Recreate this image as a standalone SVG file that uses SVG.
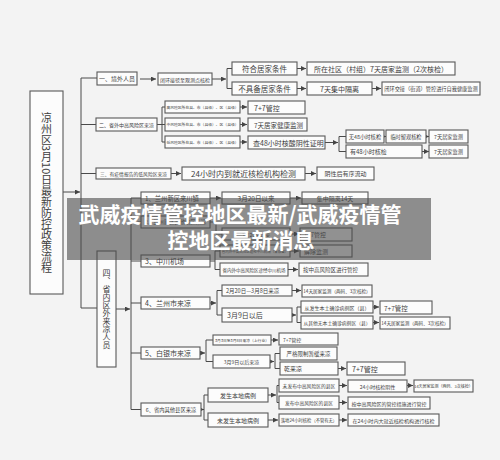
<svg xmlns="http://www.w3.org/2000/svg" width="500" height="460" viewBox="0 0 500 460">
<defs>
<marker id="ah" viewBox="0 0 6 6" refX="6" refY="3" markerWidth="5" markerHeight="5" markerUnits="userSpaceOnUse" orient="auto"><path d="M0,0L6,3L0,6z" fill="#444"/></marker>
<style>
.b{fill:#fcfcfc;stroke:#585858;stroke-width:1.1}
text{font-family:"Noto Sans CJK SC","Noto Sans",sans-serif;fill:#3e3e3e;dominant-baseline:central}
.c{text-anchor:middle}
.l{text-anchor:start}
.ln{fill:none;stroke:#4a4a4a;stroke-width:1}
.ar{fill:none;stroke:#4a4a4a;stroke-width:1;marker-end:url(#ah)}
.v{writing-mode:vertical-rl;text-anchor:start;dominant-baseline:auto}
.tt{fill:#fff;font-weight:700;font-size:21px;text-anchor:middle;dominant-baseline:auto}
</style>
</defs>
<rect width="500" height="460" fill="#f3f3f3"/>

<g id="connectors">
<path class="ar" d="M63,192H80"/>
<path class="ln" d="M81,78V308H97M81,78H97M81,124.5H96M81,173.5H96"/>
<path class="ar" d="M140,79H156"/>
<path class="ar" d="M212,79H226"/>
<path class="ln" d="M232,68.5H227V88.5H232"/>
<path class="ar" d="M297,68.5H306"/><path class="ar" d="M297,88.5H306"/>
<path class="ar" d="M372,88.5H381"/>
<path class="ln" d="M157,124.5H162M165,107H162V142H165M162,124.5H165"/>
<path class="ar" d="M240,107H247"/><path class="ar" d="M240,124.5H247"/><path class="ar" d="M240,142H247"/>
<path class="ar" d="M325,142.5H338"/>
<path class="ln" d="M346,136.5H339V151.5H346"/>
<path class="ar" d="M384,136.5H386"/><path class="ar" d="M426,136.5H429"/><path class="ar" d="M422,151.5H429"/>
<path class="ar" d="M171,173.5H181"/><path class="ar" d="M305,173.5H316"/>
<path class="ar" d="M116,309H130"/>
<path class="ln" d="M131,198V409.5H141M131,198H141M131,222H141M131,261H141M131,303H141M131,353H141"/>
<path class="ar" d="M210,198H221"/><path class="ar" d="M290,198H301"/>
<path class="ln" d="M210,222H216V234H222"/>
<path class="ar" d="M290,234H299"/>
<path class="ln" d="M210,261H215M220,251H215V269.5H220"/>
<path class="ar" d="M290,251H299"/><path class="ar" d="M288,269.5H298"/>
<path class="ar" d="M210,303H216"/>
<path class="ln" d="M222,290.5H217V315H222"/>
<path class="ar" d="M292,290.5H301"/>
<path class="ar" d="M292,315H296"/>
<path class="ln" d="M301,307H297V322.5H301"/>
<path class="ar" d="M373,307H379"/><path class="ar" d="M373,322.5H379"/>
<path class="ar" d="M200,353H205"/>
<path class="ln" d="M213,340H206V361.5H213"/>
<path class="ar" d="M271,340H278"/>
<path class="ar" d="M270,361.5H274"/>
<path class="ln" d="M280,353.5H275V368.5H280"/>
<path class="ar" d="M338,368.5H346"/>
<path class="ar" d="M201,409.5H204"/>
<path class="ln" d="M208,395H204V420H208"/>
<path class="ar" d="M268,395H276"/>
<path class="ln" d="M279,385.5H277V402.5H279"/>
<path class="ar" d="M268,420H278"/>
<path class="ar" d="M339,385.5H347"/><path class="ar" d="M407,385.5H413"/>
<path class="ar" d="M339,402.5H347"/><path class="ar" d="M339,420H347"/>
</g>

<g id="title"><rect class="b" x="30" y="91" width="33" height="203"/><text class="v" x="46.5" y="112" font-size="11">凉州区3月10日最新防控政策流程</text></g>

<g id="n1"><rect class="b" x="97" y="72" width="40" height="13"/><text class="c" x="117" y="78.5" font-size="6">一、境外人员</text></g>
<g id="n1a"><rect class="b" x="158" y="73" width="54" height="12"/><text class="c" x="185" y="79" font-size="5">闭环接驳至观测点核检</text></g>
<g id="n1b"><rect class="b" x="232" y="62" width="65" height="13"/><text class="c" x="264.5" y="68.5" font-size="7.5">符合居家条件</text></g>
<g id="n1c"><rect class="b" x="232" y="82" width="65" height="13"/><text class="c" x="264.5" y="88.5" font-size="7.5">不具备居家条件</text></g>
<g id="n1d"><rect class="b" x="307" y="62" width="148" height="13"/><text class="c" x="381" y="68.5" font-size="7">所在社区（村组）7天居家监测（2次核检）</text></g>
<g id="n1e"><rect class="b" x="307" y="82" width="65" height="13"/><text class="c" x="339.5" y="88.5" font-size="7">7天集中隔离</text></g>
<g id="n1f"><rect class="b" x="382" y="82" width="98" height="13"/><text class="c" x="431" y="88.5" font-size="5.2">闭环交接（街道）管控进行自我健康监测</text></g>

<g id="n2"><rect class="b" x="96" y="118" width="61" height="13"/><text class="c" x="126.5" y="124.5" font-size="5">二、省外中高风险区来凉</text></g>
<g id="n2a"><rect class="b" x="165" y="101" width="75" height="12"/><text class="c" x="202.5" y="107" font-size="3.8">高风险区所在县、市（县级）、区（县级）</text></g>
<g id="n2b"><rect class="b" x="165" y="118" width="75" height="13"/><text class="c" x="202.5" y="124.5" font-size="3.8">中风险区所在县、市（县级）、区（县级）</text></g>
<g id="n2c"><rect class="b" x="165" y="136" width="75" height="12"/><text class="c" x="202.5" y="142" font-size="3.8">低风险区所在县、市（县级）、区（县级）</text></g>
<g id="n2d"><rect class="b" x="248" y="101" width="57" height="13"/><text class="l" x="254" y="107.5" font-size="7">7+7管控</text></g>
<g id="n2e"><rect class="b" x="248" y="118" width="59" height="13"/><text class="l" x="254" y="124.5" font-size="6.5">7天居家健康监测</text></g>
<g id="n2f"><rect class="b" x="248" y="136" width="77" height="13"/><text class="l" x="253" y="142.5" font-size="7">查48小时核酸阴性证明</text></g>
<g id="n2g"><rect class="b" x="346" y="130" width="38" height="13"/><text class="c" x="365" y="136.5" font-size="5.3">无48小时核检</text></g>
<g id="n2h"><rect class="b" x="346" y="145" width="76" height="13"/><text class="l" x="350" y="151.5" font-size="6">有48小时核检</text></g>
<g id="n2i"><rect class="b" x="386" y="130" width="40" height="13"/><text class="c" x="406" y="136.5" font-size="5.2">临时留观核检</text></g>
<g id="n2j"><rect class="b" x="429" y="130" width="39" height="13"/><text class="c" x="448.5" y="136.5" font-size="5.2">7天居家监测</text></g>
<g id="n2k"><rect class="b" x="429" y="145" width="39" height="13"/><text class="c" x="448.5" y="151.5" font-size="5.2">7天居家监测</text></g>

<g id="n3"><rect class="b" x="96" y="168" width="75" height="11"/><text class="c" x="133.5" y="173.5" font-size="4.8">三、有疫情报告的低风险区来凉</text></g>
<g id="n3a"><rect class="b" x="182" y="167" width="123" height="13"/><text class="c" x="243.5" y="173.5" font-size="8">24小时内到就近核检机构检测</text></g>
<g id="n3b"><rect class="b" x="317" y="167" width="57" height="13"/><text class="c" x="345.5" y="173.5" font-size="6">阴性后有序流动</text></g>

<g id="n4"><rect class="b" x="97" y="251" width="19" height="116"/><text class="v" x="106.5" y="269" font-size="8">四、省内区外来凉人员</text></g>

<g id="p1"><rect class="b" x="141" y="192" width="69" height="12"/><text class="l" x="145" y="198" font-size="6.3">1、兰州新区来川镇</text></g>
<g id="p1a"><rect class="b" x="222" y="192" width="68" height="12"/><text class="c" x="256" y="198" font-size="6.5">3月20日以来</text></g>
<g id="p1b"><rect class="b" x="302" y="192" width="66" height="12"/><text class="c" x="335" y="198" font-size="6">集中隔离14天</text></g>
<g id="p2"><rect class="b" x="141" y="216" width="69" height="12"/><text class="l" x="145" y="222" font-size="5.3">2、兰州新区其他地区来凉</text></g>
<g id="p2a"><rect class="b" x="222" y="228" width="68" height="12"/><text class="c" x="256" y="234" font-size="5">3月20日以来</text></g>
<g id="p2b"><rect class="b" x="300" y="228" width="52" height="13"/><text class="l" x="304" y="234.5" font-size="6">7+7管控</text></g>
<g id="p3"><rect class="b" x="141" y="255" width="69" height="12"/><text class="l" x="145" y="261" font-size="7">3、中川机场</text></g>
<g id="p3a"><rect class="b" x="220" y="245" width="70" height="12"/><text class="c" x="255" y="251" font-size="3.5">省内外中高风险区途经中川机场（未停留）</text></g>
<g id="p3b"><rect class="b" x="300" y="245" width="52" height="12"/><text class="l" x="304" y="251" font-size="6">解除监测</text></g>
<g id="p3c"><rect class="b" x="220" y="263" width="68" height="13"/><text class="c" x="254" y="269.5" font-size="4.5">省内外中高风险区途经中川机场</text></g>
<g id="p3d"><rect class="b" x="299" y="263" width="69" height="13"/><text class="l" x="303" y="269.5" font-size="5.5">按中高风险区进行管控</text></g>

<g id="p4"><rect class="b" x="141" y="297" width="69" height="12"/><text class="l" x="145" y="303" font-size="7">4、兰州市来凉</text></g>
<g id="p4a"><rect class="b" x="222" y="285" width="70" height="11"/><text class="l" x="226" y="290.5" font-size="5.5">2月20日—3月8日来凉</text></g>
<g id="p4b"><rect class="b" x="222" y="308" width="70" height="14"/><text class="l" x="227" y="315" font-size="7">3月9日以后</text></g>
<g id="p4c"><rect class="b" x="302" y="285" width="70" height="12"/><text class="c" x="337" y="291" font-size="4.6">14天居家监测（两码、3次核检）</text></g>
<g id="p4d"><rect class="b" x="301" y="301" width="72" height="12"/><text class="c" x="337" y="307" font-size="5">从发生本土确诊病例区（县）</text></g>
<g id="p4e"><rect class="b" x="301" y="316" width="72" height="13"/><text class="c" x="337" y="322.5" font-size="4.8">从其他无本土确诊病例区（县）</text></g>
<g id="p4f"><rect class="b" x="380" y="301" width="52" height="13"/><text class="l" x="384" y="307.5" font-size="6.5">7+7管控</text></g>
<g id="p4g"><rect class="b" x="380" y="317" width="70" height="12"/><text class="c" x="415" y="323" font-size="4.6">14天居家监测（两码、3次核检）</text></g>

<g id="p5"><rect class="b" x="141" y="347" width="59" height="12"/><text class="l" x="145" y="353" font-size="7">5、白银市来凉</text></g>
<g id="p5a"><rect class="b" x="213" y="335" width="58" height="10"/><text class="c" x="242" y="340" font-size="3.8">3月3日至3月8日来凉（上行业）</text></g>
<g id="p5b"><rect class="b" x="213" y="355" width="57" height="13"/><text class="c" x="241.5" y="361.5" font-size="5">3月9日以后来凉</text></g>
<g id="p5c"><rect class="b" x="279" y="333" width="59" height="12"/><text class="l" x="283" y="339" font-size="5">7+7管控</text></g>
<g id="p5d"><rect class="b" x="280" y="347" width="57" height="13"/><text class="c" x="308.5" y="353.5" font-size="5.5">严格限制暂缓来凉</text></g>
<g id="p5e"><rect class="b" x="280" y="362" width="58" height="13"/><text class="l" x="284" y="368.5" font-size="6">乾来凉</text></g>
<g id="p5f"><rect class="b" x="347" y="362" width="58" height="13"/><text class="l" x="352" y="368.5" font-size="7">7+7管控</text></g>

<g id="p6"><rect class="b" x="141" y="403" width="60" height="13"/><text class="c" x="171" y="409.5" font-size="5.3">6、省内其他县区来凉</text></g>
<g id="p6a"><rect class="b" x="208" y="388" width="60" height="14"/><text class="c" x="238" y="395" font-size="6">发生本地病例</text></g>
<g id="p6b"><rect class="b" x="208" y="413" width="60" height="14"/><text class="c" x="238" y="420" font-size="6">未发生本地病例</text></g>
<g id="p6c"><rect class="b" x="279" y="379" width="60" height="13"/><text class="c" x="309" y="385.5" font-size="4.8">未发布中高风险区的县区</text></g>
<g id="p6d"><rect class="b" x="279" y="396" width="60" height="13"/><text class="c" x="309" y="402.5" font-size="4.8">发布中高风险区的县区</text></g>
<g id="p6e"><rect class="b" x="279" y="414" width="60" height="12"/><text class="c" x="309" y="420" font-size="4.3">落地24小时核检（不管有无）</text></g>
<g id="p6f"><rect class="b" x="348" y="380" width="59" height="12"/><text class="c" x="377.5" y="386" font-size="5">24小时核检阴性</text></g>
<g id="p6g"><rect class="b" x="414" y="380" width="59" height="12"/><text class="c" x="443.5" y="386" font-size="4">14天居家监测（两码、3次核检）</text></g>
<g id="p6h"><rect class="b" x="348" y="397" width="82" height="12"/><text class="c" x="389" y="403" font-size="5">按中高风险区的管控措施进行管控</text></g>
<g id="p6i"><rect class="b" x="348" y="414" width="91" height="12"/><text class="c" x="393.5" y="420" font-size="5.1">在24小时内大就近核检机构进行核检</text></g>

<g id="overlay"><rect x="67" y="198" width="364" height="62" fill="#4a4a4a" fill-opacity="0.6"/>
<text class="tt" x="240" y="222">武威疫情管控地区最新/武威疫情管</text>
<text class="tt" x="241" y="248">控地区最新消息</text></g>
</svg>
